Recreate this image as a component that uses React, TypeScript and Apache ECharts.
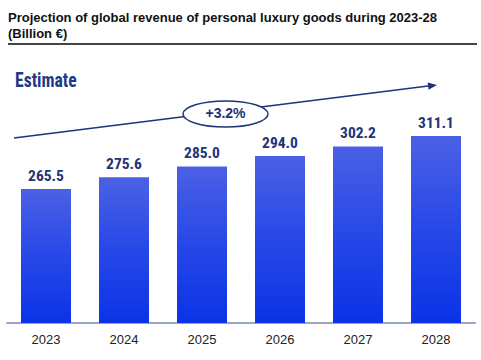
import React, { useEffect, useRef } from "react";
import * as echarts from "echarts";

const years = ["2023", "2024", "2025", "2026", "2027", "2028"];
const revenue = [265.5, 275.6, 285.0, 294.0, 302.2, 311.1];
const titleText = "Projection of global revenue of personal luxury goods during 2023-28\n(Billion €)";
const estimateText = "Estimate";
const cagrText = "+3.2%";

const NAVY = "#1d3477";

export default function App() {
  const ref = useRef<HTMLDivElement>(null);
  useEffect(() => {
    document.body.style.margin = "0";
    if (!ref.current) return;
    const chart = echarts.init(ref.current, null, { renderer: "svg" });
    // arrow geometry
    const x1 = 14, y1 = 138, tx = 437, ty = 85;
    const dx = tx - x1, dy = ty - y1;
    const len = Math.sqrt(dx * dx + dy * dy);
    const ux = dx / len, uy = dy / len;
    const hl = 9, hw = 3.6;
    const bx = tx - ux * hl, by = ty - uy * hl;
    const px = -uy, py = ux;
    chart.setOption({
      animation: false,
      backgroundColor: "#ffffff",
      grid: { left: 7, right: 6, top: 91, bottom: 37 },
      xAxis: {
        type: "category",
        data: years,
        axisLine: { lineStyle: { color: "#9aa4c8", width: 2 } },
        axisTick: { show: false },
        axisLabel: {
          color: "#222222",
          fontSize: 13,
          fontFamily: "Liberation Sans, Arial, sans-serif",
          margin: 10,
        },
      },
      yAxis: { type: "value", min: 150, max: 350, show: false, splitLine: { show: false } },
      series: [
        {
          type: "bar",
          data: revenue,
          barWidth: 50,
          itemStyle: {
            color: new echarts.graphic.LinearGradient(0, 0, 0, 1, [
              { offset: 0, color: "#4b60e4" },
              { offset: 0.5, color: "#2748e8" },
              { offset: 1, color: "#0b33e6" },
            ]),
          },
          label: {
            show: true,
            position: "top",
            distance: 5,
            formatter: (p: any) => Number(p.value).toFixed(1),
            color: NAVY,
            fontSize: 15.5,
            fontWeight: "bold",
            fontFamily: '"Roboto Condensed", "Open Sans Condensed", sans-serif',
          },
        },
      ],
      graphic: [
        {
          type: "text",
          left: 8,
          top: 9,
          style: {
            text: titleText,
            font: 'bold 13px "Liberation Sans", Arial, sans-serif',
            lineHeight: 16,
            fill: "#111111",
          },
        },
        {
          type: "line",
          shape: { x1: 8, y1: 44, x2: 477, y2: 44 },
          style: { stroke: "#444444", lineWidth: 2 },
        },
        {
          type: "text",
          x: 15,
          y: 69,
          scaleX: 0.84,
          style: {
            text: estimateText,
            font: 'bold 21px "Roboto Condensed", "Open Sans Condensed", sans-serif',
            fill: "#1f3a85",
          },
        },
        {
          type: "line",
          shape: { x1, y1, x2: bx, y2: by },
          style: { stroke: NAVY, lineWidth: 1.5 },
        },
        {
          type: "polygon",
          shape: {
            points: [
              [tx, ty],
              [bx + px * hw, by + py * hw],
              [bx - px * hw, by - py * hw],
            ],
          },
          style: { fill: NAVY },
        },
        {
          type: "ellipse",
          shape: { cx: 225.5, cy: 114, rx: 42.5, ry: 13 },
          style: { fill: "#ffffff", stroke: NAVY, lineWidth: 1.5 },
          z: 10,
        },
        {
          type: "text",
          x: 225.5,
          y: 113,
          z: 11,
          style: {
            text: cagrText,
            font: 'bold 14px "Liberation Sans", Arial, sans-serif',
            fill: NAVY,
            textAlign: "center",
            textVerticalAlign: "middle",
          },
        },
      ],
    });
    return () => chart.dispose();
  }, []);
  return <div ref={ref} style={{ width: 481, height: 360 }} />;
}
